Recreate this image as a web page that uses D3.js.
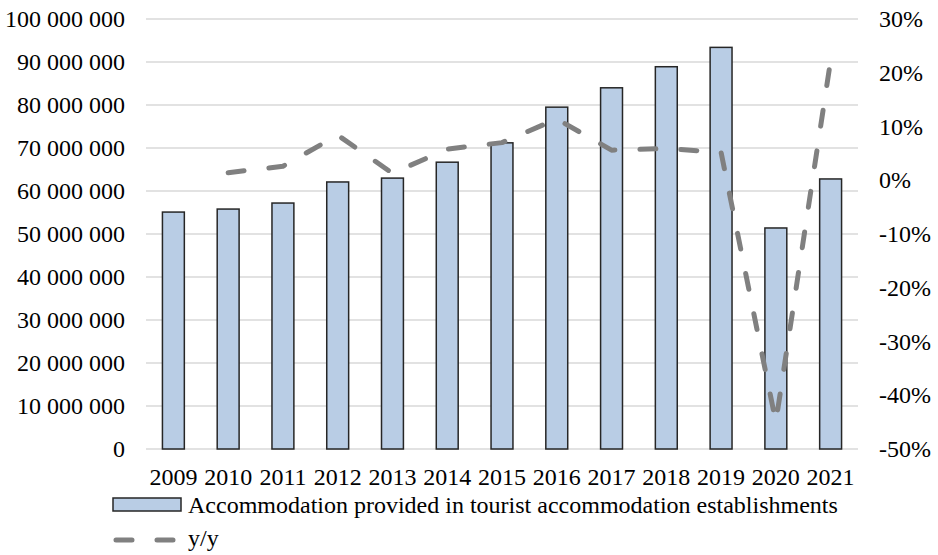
<!DOCTYPE html>
<html>
<head>
<meta charset="utf-8">
<script src="https://cdn.jsdelivr.net/npm/d3@7/dist/d3.min.js"></script>
<style>
  body { margin: 0; background: #fff; }
</style>
</head>
<body>
<svg id="chart" width="938" height="555"></svg>
<script>
// chart data
var years = ['2009','2010','2011','2012','2013','2014','2015','2016','2017','2018','2019','2020','2021'];
var nights = [55100000, 55800000, 57200000, 62100000, 63000000, 66700000, 71200000,
              79500000, 84000000, 88900000, 93400000, 51400000, 62800000];
var yoy = [null, 1.4, 2.6, 8.4, 1.3, 5.8, 7.0, 11.4, 5.6, 5.9, 5.2, -45.0, 22.3];
var leftTicks = [0, 10e6, 20e6, 30e6, 40e6, 50e6, 60e6, 70e6, 80e6, 90e6, 100e6];
var rightTicks = [-50, -40, -30, -20, -10, 0, 10, 20, 30];
var barLabel = 'Accommodation provided in tourist accommodation establishments';
var lineLabel = 'y/y';

var svg = d3.select('#chart');
var m = { left: 146, right: 858, top: 19, bottom: 449 };
var FONT = 24;
var FAMILY = '"Liberation Serif", "Times New Roman", "DejaVu Serif", serif';

var x = d3.scaleBand().domain(years).range([m.left, m.right]).paddingInner(0.6).paddingOuter(0.3);
var yL = d3.scaleLinear().domain([0, 100e6]).range([m.bottom, m.top]);
var yR = d3.scaleLinear().domain([-50, 30]).range([m.bottom, m.top]);

var fmt = function(v){ return d3.format(',')(v).replace(/,/g, ' '); };

function styleText(sel){
  sel.attr('font-family', FAMILY).attr('font-size', FONT).attr('fill', '#000');
}

// gridlines
svg.append('g').selectAll('line').data(leftTicks).enter().append('line')
  .attr('x1', m.left).attr('x2', m.right)
  .attr('y1', function(d){ return yL(d); }).attr('y2', function(d){ return yL(d); })
  .attr('stroke', '#d9d9d9').attr('stroke-width', 1.5);

// left axis
var axL = svg.append('g').attr('transform', 'translate(' + (m.left - 21) + ',0)')
  .call(d3.axisLeft(yL).tickValues(leftTicks).tickFormat(fmt).tickSize(0).tickPadding(0));
axL.select('.domain').remove();
styleText(axL.selectAll('text'));

// right axis
var axR = svg.append('g').attr('transform', 'translate(' + (m.right + 21) + ',0)')
  .call(d3.axisRight(yR).tickValues(rightTicks).tickFormat(function(d){ return d + '%'; }).tickSize(0).tickPadding(0));
axR.select('.domain').remove();
styleText(axR.selectAll('text'));

// bottom axis (labels only)
var axB = svg.append('g').attr('transform', 'translate(0,' + (m.bottom + 13) + ')')
  .call(d3.axisBottom(x).tickSize(0).tickPadding(0));
axB.select('.domain').remove();
styleText(axB.selectAll('text'));
axB.selectAll('text').attr('dy', '0.95em');

// bars
svg.append('g').selectAll('rect').data(nights).enter().append('rect')
  .attr('x', function(d, i){ return x(years[i]); })
  .attr('width', x.bandwidth())
  .attr('y', function(d){ return yL(d); })
  .attr('height', function(d){ return yL(0) - yL(d); })
  .attr('fill', '#b9cde5').attr('stroke', '#262626').attr('stroke-width', 1.5);

// y/y line
var pts = yoy.map(function(v, i){ return { year: years[i], v: v }; }).filter(function(d){ return d.v !== null; });
var line = d3.line()
  .x(function(d){ return x(d.year) + x.bandwidth() / 2; })
  .y(function(d){ return yR(d.v); });
svg.append('path').datum(pts).attr('d', line)
  .attr('fill', 'none').attr('stroke', '#808080').attr('stroke-width', 5)
  .attr('stroke-dasharray', '16,25').attr('stroke-linecap', 'round').attr('stroke-linejoin', 'round');

// legend
var lg = svg.append('g');
lg.append('rect').attr('x', 113).attr('y', 498).attr('width', 68).attr('height', 13)
  .attr('fill', '#b9cde5').attr('stroke', '#262626').attr('stroke-width', 1.5);
styleText(lg.append('text').attr('x', 188).attr('y', 513).text(barLabel));
lg.append('line').attr('x1', 116).attr('x2', 176).attr('y1', 540).attr('y2', 540)
  .attr('stroke', '#808080').attr('stroke-width', 5).attr('stroke-dasharray', '16,25')
  .attr('stroke-linecap', 'round');
styleText(lg.append('text').attr('x', 188).attr('y', 546).text(lineLabel));
</script>
</body>
</html>
